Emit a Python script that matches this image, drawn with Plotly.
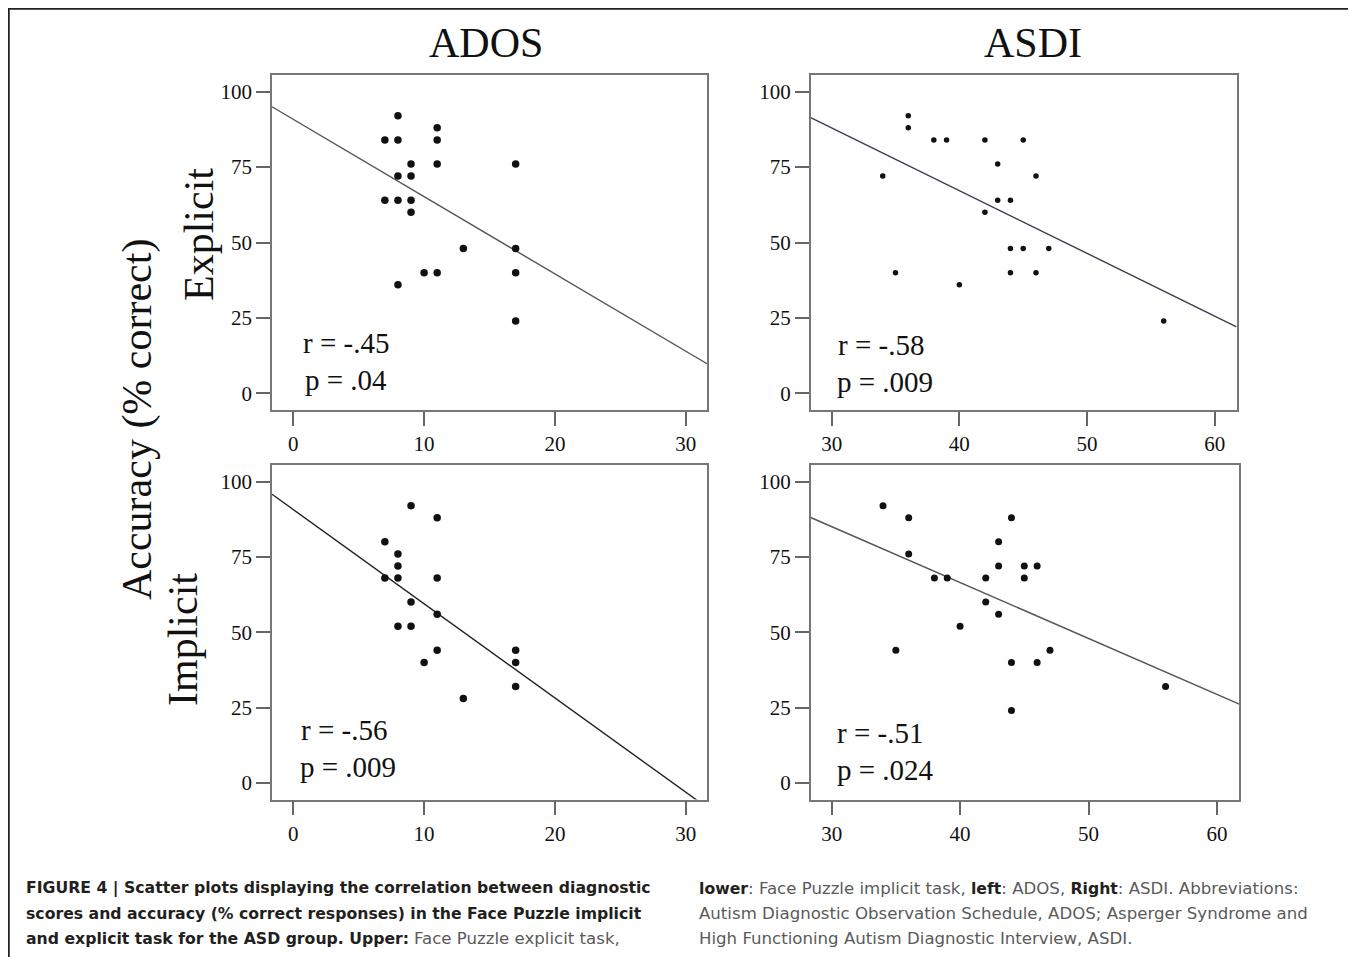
import plotly.graph_objects as go

# The page body keeps the browser's default 8px margin, so the figure is drawn
# 8px right/down of the window origin; positions below are window pixels.
OFF = 8
W, H = 1356 - OFF, 957 - OFF

# ---------------- data ----------------
ados_explicit_x = [8, 11, 7, 8, 11, 9, 11, 17, 8, 9, 7, 8, 9, 9, 13, 17, 10, 11, 17, 8, 17]
ados_explicit_y = [92, 88, 84, 84, 84, 76, 76, 76, 72, 72, 64, 64, 64, 60, 48, 48, 40, 40, 40, 36, 24]

asdi_explicit_x = [36, 36, 38, 39, 42, 45, 43, 34, 46, 43, 44, 42, 44, 45, 47, 35, 44, 46, 40, 56]
asdi_explicit_y = [92, 88, 84, 84, 84, 84, 76, 72, 72, 64, 64, 60, 48, 48, 48, 40, 40, 40, 36, 24]

ados_implicit_x = [9, 11, 7, 8, 8, 7, 8, 11, 9, 11, 8, 9, 11, 17, 10, 17, 17, 13]
ados_implicit_y = [92, 88, 80, 76, 72, 68, 68, 68, 60, 56, 52, 52, 44, 44, 40, 40, 32, 28]

asdi_implicit_x = [34, 36, 44, 43, 36, 43, 45, 46, 38, 39, 42, 45, 42, 43, 40, 35, 47, 44, 46, 56, 44]
asdi_implicit_y = [92, 88, 88, 80, 76, 72, 72, 72, 68, 68, 68, 68, 60, 56, 52, 44, 44, 40, 40, 32, 24]

# fitted regression lines (intercept, slope) as drawn in the reference
fit_intercept = [90.8, 150.4, 90.7, 140.7]
fit_slope = [-2.56, -2.08, -3.125, -1.855]

r_labels = ["r = -.45", "r = -.58", "r = -.56", "r = -.51"]
p_labels = ["p = .04", "p = .009", "p = .009", "p = .024"]

col_titles = ["ADOS", "ASDI"]
row_titles = ["Explicit", "Implicit"]
y_title = "Accuracy (% correct)"

ados_ticks = [0, 10, 20, 30]
asdi_ticks = [30, 40, 50, 60]
acc_ticks = [0, 25, 50, 75, 100]


def reg(s):
    return f"<span style='color:#5a5a5a;font-weight:normal;font-size:16.6px'>{s}</span>"


caption_left = [
    "<b>FIGURE 4 | Scatter plots displaying the correlation between diagnostic</b>",
    "<b>scores and accuracy (% correct responses) in the Face Puzzle implicit</b>",
    "<b>and explicit task for the ASD group. Upper:</b> " + reg("Face Puzzle explicit task,"),
]
caption_right = [
    "<b>lower</b>" + reg(": Face Puzzle implicit task, ") + "<b>left</b>" + reg(": ADOS, ")
    + "<b>Right</b>" + reg(": ASDI. Abbreviations:"),
    reg("Autism Diagnostic Observation Schedule, ADOS; Asperger Syndrome and"),
    reg("High Functioning Autism Diagnostic Interview, ASDI."),
]

# ---------------- layout helpers ----------------
def fx(px):
    return (px - OFF) / W

def fy(py):
    return 1 - (py - OFF) / H

SERIF = "Liberation Serif, Times New Roman, serif"
SANS = "DejaVu Sans, Liberation Sans, Arial, sans-serif"

panels = [
    dict(x=ados_explicit_x, y=ados_explicit_y, box=(272, 707, 75, 410), xr=[-1.63, 31.63], xt=ados_ticks,
         msize=7.5, lcol="#555555", rpos=(301, 343), ppos=(303, 380)),
    dict(x=asdi_explicit_x, y=asdi_explicit_y, box=(810.7, 1236.5, 75, 410), xr=[28.36, 61.7], xt=asdi_ticks,
         msize=5.5, lcol="#3c3c4e", rpos=(836, 345), ppos=(835, 382)),
    dict(x=ados_implicit_x, y=ados_implicit_y, box=(272, 707, 465, 799.5), xr=[-1.63, 31.63], xt=ados_ticks,
         msize=7.5, lcol="#222222", rpos=(299, 730), ppos=(298, 767)),
    dict(x=asdi_implicit_x, y=asdi_implicit_y, box=(810.7, 1239.3, 465, 799.5), xr=[28.37, 61.74], xt=asdi_ticks,
         msize=7, lcol="#555555", rpos=(835, 733), ppos=(835, 770)),
]

fig = go.Figure()
layout_axes = {}
annotations = []

for i, p in enumerate(panels):
    n = i + 1
    xa = "x" if n == 1 else f"x{n}"
    ya = "y" if n == 1 else f"y{n}"
    xkey = "xaxis" if n == 1 else f"xaxis{n}"
    ykey = "yaxis" if n == 1 else f"yaxis{n}"
    left, right, top, bottom = p["box"]

    x0, x1 = p["xr"]
    fig.add_trace(go.Scatter(
        x=[x0, x1],
        y=[fit_intercept[i] + fit_slope[i] * x0, fit_intercept[i] + fit_slope[i] * x1],
        mode="lines", line=dict(color=p["lcol"], width=1.4),
        xaxis=xa, yaxis=ya, showlegend=False, hoverinfo="skip",
    ))
    fig.add_trace(go.Scatter(
        x=p["x"], y=p["y"], mode="markers",
        marker=dict(color="#111111", size=p["msize"]),
        xaxis=xa, yaxis=ya, showlegend=False,
    ))

    common = dict(
        showgrid=False, zeroline=False, showline=True, linecolor="#777777", linewidth=1.6,
        mirror=True, ticks="outside", ticklen=14, tickwidth=1.5, tickcolor="#666666",
        tickfont=dict(family=SERIF, size=21, color="#111111"), fixedrange=True,
    )
    layout_axes[xkey] = dict(common, domain=[fx(left), fx(right)], range=p["xr"],
                             tickvals=p["xt"], anchor=ya)
    layout_axes[ykey] = dict(common, domain=[fy(bottom), fy(top)], range=[-5.5, 105.5],
                             tickvals=acc_ticks, anchor=xa)

    annotations.append(dict(text=r_labels[i], x=fx(p["rpos"][0]), y=fy(p["rpos"][1]),
                            xref="paper", yref="paper", xanchor="left", yanchor="middle",
                            showarrow=False, font=dict(family=SERIF, size=29, color="#111111")))
    annotations.append(dict(text=p_labels[i], x=fx(p["ppos"][0]), y=fy(p["ppos"][1]),
                            xref="paper", yref="paper", xanchor="left", yanchor="middle",
                            showarrow=False, font=dict(family=SERIF, size=29, color="#111111")))

for t, cx in zip(col_titles, [486, 1033]):
    annotations.append(dict(text=t, x=fx(cx), y=fy(43), xref="paper", yref="paper",
                            xanchor="center", yanchor="middle", showarrow=False,
                            font=dict(family=SERIF, size=42, color="#111111")))
for t, cx, cy in zip(row_titles, [199, 183], [235, 640]):
    annotations.append(dict(text=t, x=fx(cx), y=fy(cy), xref="paper", yref="paper",
                            xanchor="center", yanchor="middle", showarrow=False, textangle=-90,
                            font=dict(family=SERIF, size=42, color="#111111")))
annotations.append(dict(text=y_title, x=fx(137), y=fy(420), xref="paper", yref="paper",
                        xanchor="center", yanchor="middle", showarrow=False, textangle=-90,
                        font=dict(family=SERIF, size=42, color="#111111")))

for j, line in enumerate(caption_left):
    annotations.append(dict(text=line, x=fx(24), y=fy(888 + 25 * j), xref="paper", yref="paper",
                            xanchor="left", yanchor="middle", showarrow=False,
                            font=dict(family=SANS, size=15.7, color="#231f20")))
for j, line in enumerate(caption_right):
    annotations.append(dict(text=line, x=fx(697), y=fy(888 + 25 * j), xref="paper", yref="paper",
                            xanchor="left", yanchor="middle", showarrow=False,
                            font=dict(family=SANS, size=15.7, color="#231f20")))

shapes = [
    dict(type="rect", xref="paper", yref="paper", x0=fx(8.5), x1=fx(1351.5), y0=-0.1, y1=fy(8.5),
         line=dict(color="#222222", width=2.5), fillcolor="rgba(0,0,0,0)", layer="above"),
]

fig.update_layout(
    width=W, height=H, margin=dict(l=0, r=0, t=0, b=0),
    paper_bgcolor="white", plot_bgcolor="white",
    annotations=annotations, shapes=shapes, showlegend=False,
    **layout_axes,
)

fig.write_html("out.html")
